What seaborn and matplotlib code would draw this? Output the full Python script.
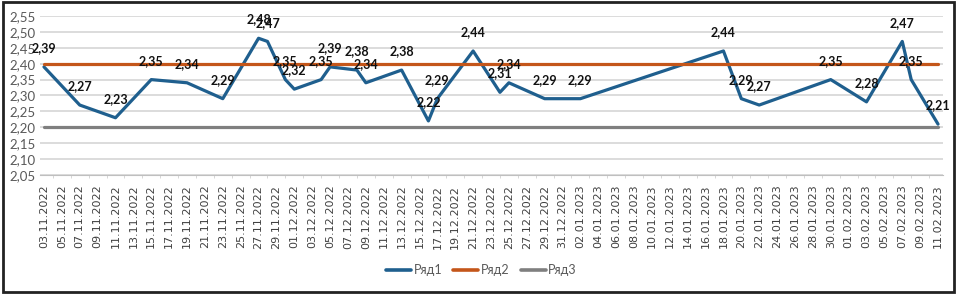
import matplotlib
matplotlib.use("Agg")
import matplotlib.pyplot as plt
import matplotlib.dates as mdates
from matplotlib.ticker import FuncFormatter, MultipleLocator
from matplotlib.patches import Rectangle
import pandas as pd
import seaborn as sns

# values
dates = ["03.11.2022", "07.11.2022", "11.11.2022", "15.11.2022", "19.11.2022",
         "23.11.2022", "27.11.2022", "28.11.2022", "30.11.2022", "01.12.2022",
         "04.12.2022", "05.12.2022", "08.12.2022", "09.12.2022", "13.12.2022",
         "16.12.2022", "17.12.2022", "21.12.2022", "24.12.2022", "25.12.2022",
         "29.12.2022", "02.01.2023", "18.01.2023", "20.01.2023", "22.01.2023",
         "30.01.2023", "03.02.2023", "07.02.2023", "08.02.2023", "11.02.2023"]
row1 = [2.39, 2.27, 2.23, 2.35, 2.34,
        2.29, 2.48, 2.47, 2.35, 2.32,
        2.35, 2.39, 2.38, 2.34, 2.38,
        2.22, 2.29, 2.44, 2.31, 2.34,
        2.29, 2.29, 2.44, 2.29, 2.27,
        2.35, 2.28, 2.47, 2.35, 2.21]
row2_level = 2.40
row3_level = 2.20
series_names = ["Ряд1", "Ряд2", "Ряд3"]
colors = ["#1F5F8E", "#C4561A", "#7F7F7F"]


def main():
    x = pd.to_datetime(dates, format="%d.%m.%Y")
    df = pd.concat([
        pd.DataFrame({"date": x, "value": row1, "series": series_names[0]}),
        pd.DataFrame({"date": x, "value": row2_level, "series": series_names[1]}),
        pd.DataFrame({"date": x, "value": row3_level, "series": series_names[2]}),
    ])

    sns.set_style("white")
    plt.rcParams["font.family"] = ["Lato", "DejaVu Sans"]

    fig = plt.figure(figsize=(9.57, 2.94), dpi=100)
    ax = fig.add_axes([39.5 / 957, 1 - 175 / 294, (942.5 - 39.5) / 957, (175 - 16) / 294])

    sns.lineplot(data=df, x="date", y="value", hue="series", palette=colors,
                 linewidth=2.3, ax=ax, legend=False, estimator=None, sort=False)

    # data labels for Ряд1
    for d, v in zip(x, row1):
        ax.annotate(f"{v:.2f}".replace(".", ","), (d, v), xytext=(0, 13.5),
                    textcoords="offset points", ha="center", va="center",
                    fontsize=9, fontweight="bold", color="#111111")

    one_day = pd.Timedelta(days=1)
    ax.set_xlim(x[0] - one_day / 2, x[-1] + one_day / 2)
    ax.set_ylim(2.05, 2.55)
    ax.yaxis.set_major_locator(MultipleLocator(0.05))
    ax.yaxis.set_major_formatter(FuncFormatter(lambda v, p: f"{v:.2f}".replace(".", ",")))
    ax.grid(axis="y", color="#D9D9D9", linewidth=1.3)
    ax.set_axisbelow(True)

    ticks = pd.date_range(x[0], x[-1], freq="2D")
    ax.set_xticks(ticks)
    ax.set_xticklabels([t.strftime("%d.%m.%Y") for t in ticks], rotation=90,
                       fontsize=8, color="#404040", family="DejaVu Sans")
    ax.xaxis.set_minor_locator(mdates.DayLocator())
    ax.tick_params(axis="x", which="major", length=4, color="#BFBFBF", pad=3)
    ax.tick_params(axis="x", which="minor", length=2, color="#D0D0D0", bottom=True)
    ax.tick_params(axis="y", length=0, labelsize=9.5, labelcolor="#595959", pad=3)

    for s in ["top", "right", "left"]:
        ax.spines[s].set_visible(False)
    ax.spines["bottom"].set_color("#BFBFBF")
    ax.set_xlabel("")
    ax.set_ylabel("")

    handles = [plt.Line2D([], [], color=c, linewidth=2.6) for c in colors]
    fig.legend(handles, series_names, loc="center", bbox_to_anchor=(0.503, 1 - 270 / 294),
               ncol=3, frameon=False, fontsize=9, handlelength=2.0, handletextpad=0.2,
               columnspacing=0.9, labelcolor="#595959")

    # outer chart frame
    fig.patches.append(Rectangle((3 / 957, 2 / 294), 951 / 957, 290 / 294,
                                 transform=fig.transFigure, fill=False,
                                 edgecolor="#222222", linewidth=2))

    fig.savefig("out.png", dpi=100)
    plt.close(fig)


if __name__ == "__main__":
    main()
